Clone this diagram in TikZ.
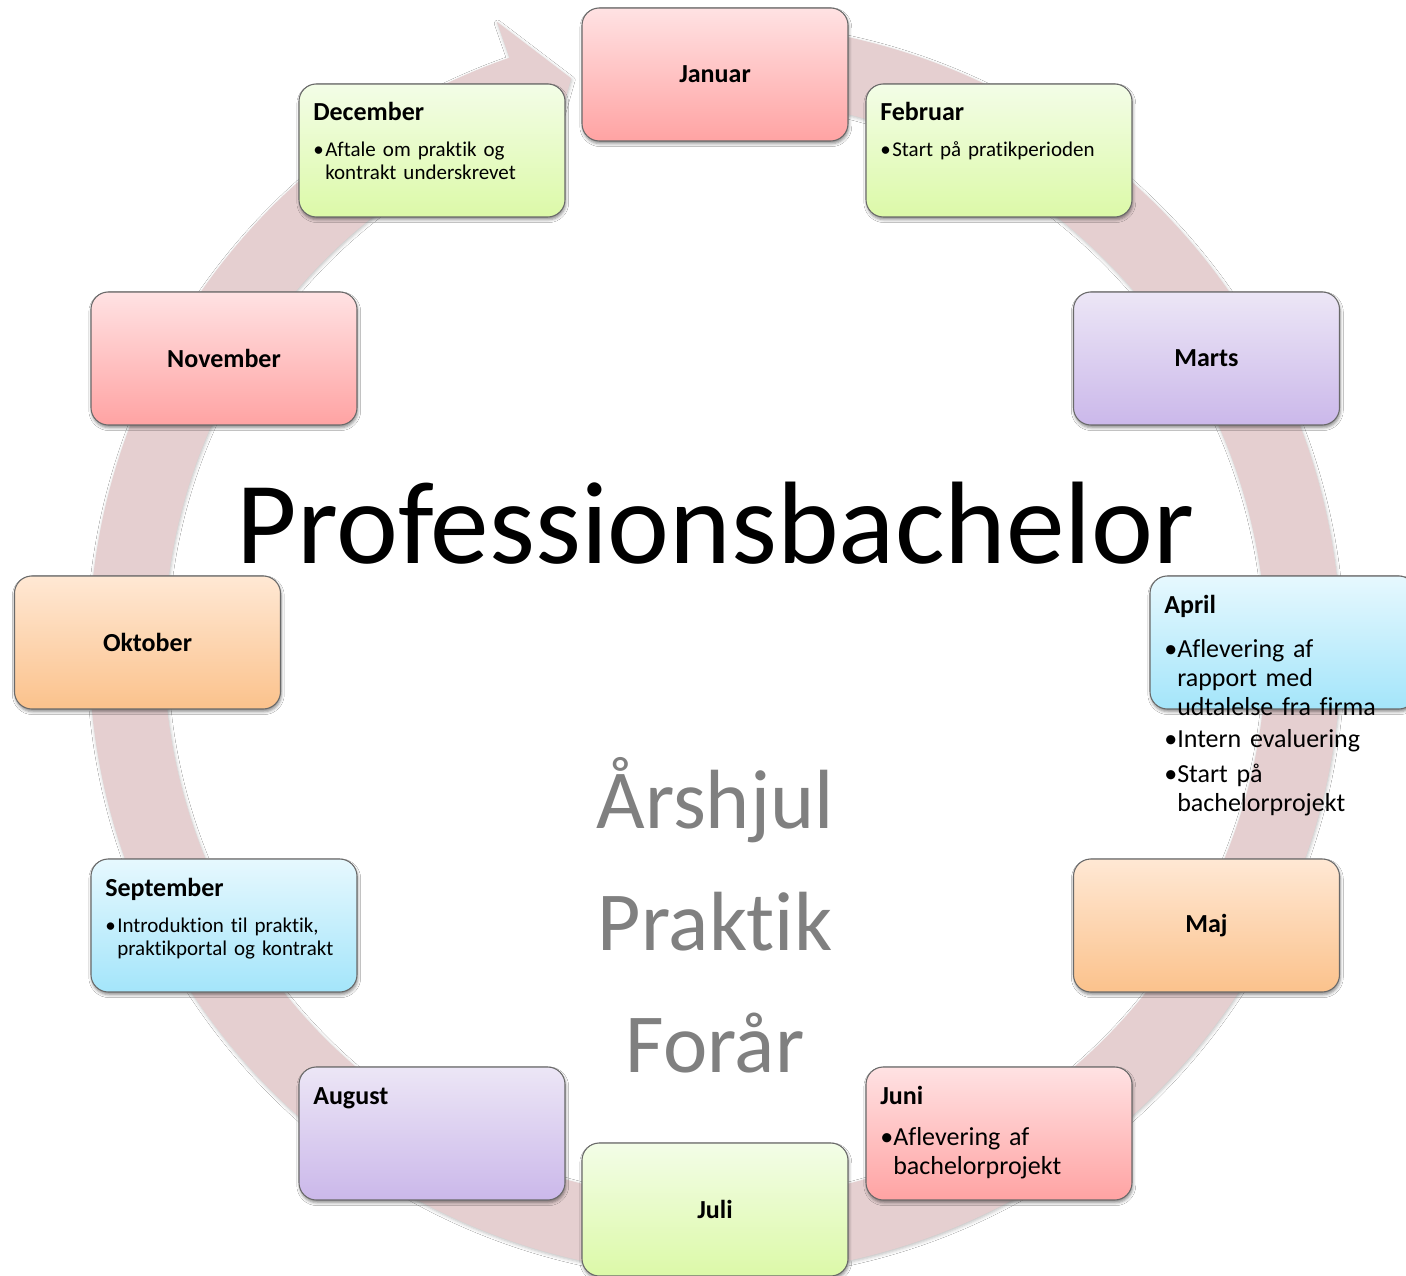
\documentclass[tikz,border=0pt]{standalone}
\usepackage{fontspec}
\setmainfont{Carlito}[Ligatures={NoCommon}]
\usetikzlibrary{calc,shadows,shadows.blur}
\definecolor{ringc}{RGB}{229,207,208}
\definecolor{pinkT}{RGB}{255,226,227}\definecolor{pinkB}{RGB}{255,163,163}
\definecolor{greenT}{RGB}{243,253,231}\definecolor{greenB}{RGB}{220,249,168}
\definecolor{purpT}{RGB}{236,230,246}\definecolor{purpB}{RGB}{203,184,234}
\definecolor{blueT}{RGB}{230,248,254}\definecolor{blueB}{RGB}{164,229,250}
\definecolor{orgT}{RGB}{255,232,212}\definecolor{orgB}{RGB}{251,194,140}
\definecolor{edgec}{RGB}{105,105,105}
\definecolor{graytxt}{RGB}{128,128,128}
\tikzset{
  monthbox/.style={draw=edgec, line width=0.8pt, rounded corners=13pt,
    minimum width=199.5pt, minimum height=99.75pt, inner sep=0pt,
    blur shadow={shadow xshift=0.6pt, shadow yshift=-2pt, shadow blur radius=2.2pt, shadow opacity=45},
    font=\fontsize{19.5}{23}\selectfont\bfseries},
  pinkbox/.style={monthbox, top color=pinkT, bottom color=pinkB},
  greenbox/.style={monthbox, top color=greenT, bottom color=greenB},
  purpbox/.style={monthbox, top color=purpT, bottom color=purpB},
  bluebox/.style={monthbox, top color=blueT, bottom color=blueB},
  orgbox/.style={monthbox, top color=orgT, bottom color=orgB},
  mtitle/.style={anchor=base west, inner sep=0pt, font=\fontsize{19.5}{23}\selectfont\bfseries},
  sbul/.style={anchor=base west, inner sep=0pt, font=\fontsize{15.75}{17.25}\selectfont},
  stext/.style={anchor=base west, inner sep=0pt, text width=200pt, align=left, font=\fontsize{15.75}{17.25}\selectfont},
  lbul/.style={anchor=base west, inner sep=0pt, font=\fontsize{19.5}{21.75}\selectfont},
  ltext/.style={anchor=base west, inner sep=0pt, text width=200pt, align=left, font=\fontsize{19.5}{21.75}\selectfont},
  bigtxt/.style={anchor=base, inner sep=0pt, font=\fontsize{88}{100}\selectfont},
  graytext/.style={anchor=base, inner sep=0pt, text=graytxt, font=\fontsize{63}{70}\selectfont}
}
\begin{document}
\begin{tikzpicture}[x=0.75pt,y=0.75pt]
\fill[white] (0,0) rectangle (1406,-1276);
\useasboundingbox (0,0) rectangle (1406,-1276);
\coordinate (C) at (715,-649);
% ring arrow
\fill[ringc, blur shadow={shadow xshift=0.5pt, shadow yshift=-1.2pt, shadow blur radius=2.5pt, shadow opacity=25}]
  ($(C)+(92:626)$) arc[start angle=92,end angle=-250.83,radius=626]
  -- ($(C)+(-250.83:664)$) -- ($(C)+(-255.85:588.5)$) -- ($(C)+(-250.83:513)$)
  -- ($(C)+(-250.83:551)$) arc[start angle=-250.83,end angle=92,radius=551] -- cycle;
% boxes
\node[pinkbox]  (jan) at (715,-74.5) {Januar};
\node[greenbox] (feb) at (999,-150.5) {};
\node[purpbox]  (mar) at (1206.5,-358.5) {Marts};
\node[bluebox]  (apr) at (1283,-642.5) {};
\node[orgbox]   (maj) at (1206.5,-925.5) {Maj};
\node[pinkbox]  (jun) at (999,-1133.5) {};
\node[greenbox] (jul) at (715,-1209.5) {Juli};
\node[purpbox]  (aug) at (432,-1133.5) {};
\node[bluebox]  (sep) at (224,-925.5) {};
\node[orgbox]   (okt) at (147.5,-642.5) {Oktober};
\node[pinkbox]  (nov) at (224,-358.5) {November};
\node[greenbox] (dec) at (432,-150.5) {};
% December
\node[mtitle] (dect) at (313,-121) {December};
\node[sbul] (decb) at (313,-157) {\textbullet};
\node[stext] (decx) at (325,-157) {Aftale om praktik og\\kontrakt underskrevet};
% Februar
\node[mtitle] (febt) at (880,-121) {Februar};
\node[sbul] (febb) at (880,-157) {\textbullet};
\node[stext] (febx) at (892,-157) {Start på pratikperioden};
% April
\node[mtitle] (aprt) at (1164,-613) {April};
\node[lbul] (aprb1) at (1164,-657) {\textbullet};
\node[ltext] (aprx1) at (1177,-657) {Aflevering af\\rapport med\\udtalelse fra firma};
\node[lbul] (aprb2) at (1164,-747) {\textbullet};
\node[ltext] (aprx2) at (1177,-747) {Intern evaluering};
\node[lbul] (aprb3) at (1164,-782) {\textbullet};
\node[ltext] (aprx3) at (1177,-782) {Start på\\bachelorprojekt};
% Juni
\node[mtitle] (junt) at (880,-1104) {Juni};
\node[lbul] (junb) at (880,-1145) {\textbullet};
\node[ltext] (junx) at (893,-1145) {Aflevering af\\bachelorprojekt};
% August
\node[mtitle] (augt) at (313,-1104) {August};
% September
\node[mtitle] (sept) at (105,-896) {September};
\node[sbul] (sepb) at (105,-932) {\textbullet};
\node[stext] (sepx) at (117,-932) {Introduktion til praktik,\\praktikportal og kontrakt};
% central texts
\node[bigtxt] (prof) at (715.5,-563) {Professionsbachelor};
\node[graytext] (arshjul) at (715,-828) {Årshjul};
\node[graytext] (praktik) at (715,-950) {Praktik};
\node[graytext] (foraar) at (715,-1072) {Forår};
\end{tikzpicture}
\end{document}
